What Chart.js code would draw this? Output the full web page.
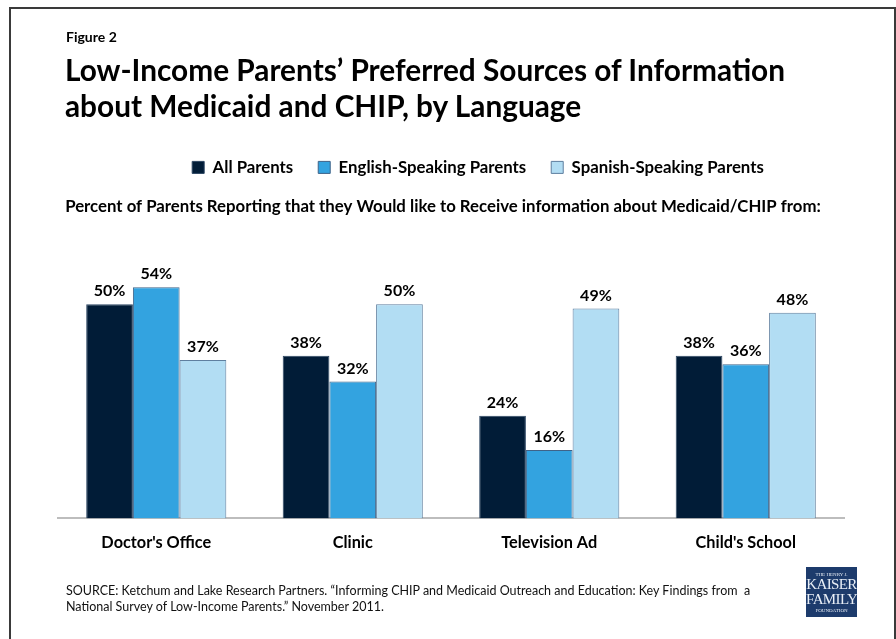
<!DOCTYPE html>
<html>
<head>
<meta charset="utf-8">
<script src="https://cdn.jsdelivr.net/npm/chart.js@4.4.1/dist/chart.umd.min.js"></script>
<style>
  body { margin: 0; background: #fff; }
  #page { position: relative; width: 896px; height: 639px; overflow: hidden; font-family: Lato, sans-serif; color: #000; }
  #frame { position: absolute; left: 9px; top: 7px; width: 887px; height: 700px; border: 2px solid #3a3a3a; box-sizing: border-box; }
  #chart { position: absolute; left: 0; top: 0; }
  .txt { position: absolute; white-space: nowrap; }
  #fig { left: 66px; top: 28px; font-size: 14px; font-weight: bold; }
  #title { left: 65px; top: 52px; font-size: 29.8px; font-weight: bold; line-height: 36px; }
  #source { left: 66px; top: 583px; font-size: 12.5px; line-height: 16px; color: #111; }
  #logo { position: absolute; left: 806px; top: 567px; width: 51px; height: 50px; background: #1d3b6c; color: #e8eef6; font-family: "Liberation Serif", serif; text-align: center; }
  #logo div { line-height: 1; }
</style>
</head>
<body>
<div id="page">
  <canvas id="chart" width="896" height="639"></canvas>
  <div id="frame"></div>
  <div class="txt" id="fig">Figure 2</div>
  <div class="txt" id="title">Low-Income Parents’ Preferred Sources of Information<br>about Medicaid and CHIP, by Language</div>
  <div class="txt" id="source">SOURCE: Ketchum and Lake Research Partners. “Informing CHIP and Medicaid Outreach and Education: Key Findings from&nbsp; a<br>National Survey of Low-Income Parents.” November 2011.</div>
  <div id="logo">
    <div style="font-size:5px;padding-top:5px;">THE HENRY J.</div>
    <div style="font-size:15px;letter-spacing:-0.6px;">KAISER</div>
    <div style="font-size:15px;letter-spacing:-0.6px;">FAMILY</div>
    <div style="font-size:5px;padding-top:1px;">FOUNDATION</div>
  </div>
</div>
<script>
// data
var categories = ["Doctor's Office", 'Clinic', 'Television Ad', "Child's School"];
var allParents = [50, 38, 24, 38];
var englishParents = [54, 32, 16, 36];
var spanishParents = [37, 50, 49, 48];

// value labels above each bar
var valueLabels = {
  id: 'valueLabels',
  afterDatasetsDraw: function (chart) {
    var ctx = chart.ctx;
    ctx.save();
    ctx.font = 'bold 16px Lato';
    ctx.fillStyle = '#000';
    ctx.textAlign = 'center';
    ctx.textBaseline = 'bottom';
    chart.data.datasets.forEach(function (ds, i) {
      chart.getDatasetMeta(i).data.forEach(function (bar, j) {
        ctx.fillText(ds.data[j] + '%', bar.x, bar.y - 5);
      });
    });
    ctx.restore();
  }
};

// legend sits a bit right of centre, subtitle a bit left, as in the original
var nudgeBlocks = {
  id: 'nudgeBlocks',
  afterLayout: function (chart) {
    chart.legend.left += 27;
    chart.legend.right += 27;
    chart.titleBlock.left -= 8;
    chart.titleBlock.right -= 8;
  }
};

var ctx = document.getElementById('chart').getContext('2d');
var chart = new Chart(ctx, {
  type: 'bar',
  data: {
    labels: categories,
    datasets: [
      { label: 'All Parents', data: allParents, backgroundColor: '#011c37', borderColor: '#2c4663', borderWidth: 1 },
      { label: 'English-Speaking Parents', data: englishParents, backgroundColor: '#33a3e0', borderColor: '#3f6388', borderWidth: 1 },
      { label: 'Spanish-Speaking Parents', data: spanishParents, backgroundColor: '#b2ddf3', borderColor: '#5f7f9f', borderWidth: 1 }
    ]
  },
  options: {
    responsive: false,
    devicePixelRatio: 1,
    animation: false,
    layout: { padding: { top: 134, left: 58, right: 52, bottom: 71 } },
    datasets: { bar: { categoryPercentage: 0.713, barPercentage: 1 } },
    scales: {
      x: {
        grid: { display: false, drawTicks: false },
        border: { color: '#bdbdbd', width: 2 },
        ticks: { color: '#000', font: { family: 'Lato', size: 16.3, weight: 'bold' }, padding: 15 }
      },
      y: { display: false, min: 0, max: 60 }
    },
    plugins: {
      legend: {
        weight: 3000,
        maxHeight: 55,
        labels: {
          color: '#000',
          font: { family: 'Lato', size: 16.8, weight: 'bold' },
          boxWidth: 12,
          boxHeight: 12,
          padding: 25
        }
      },
      title: {
        display: true,
        text: 'Percent of Parents Reporting that they Would like to Receive information about Medicaid/CHIP from:',
        color: '#000',
        font: { family: 'Lato', size: 16.8, weight: 'bold' },
        padding: { top: 11, bottom: 44.5 }
      },
      tooltip: { enabled: false }
    }
  },
  plugins: [valueLabels, nudgeBlocks]
});
</script>
</body>
</html>
